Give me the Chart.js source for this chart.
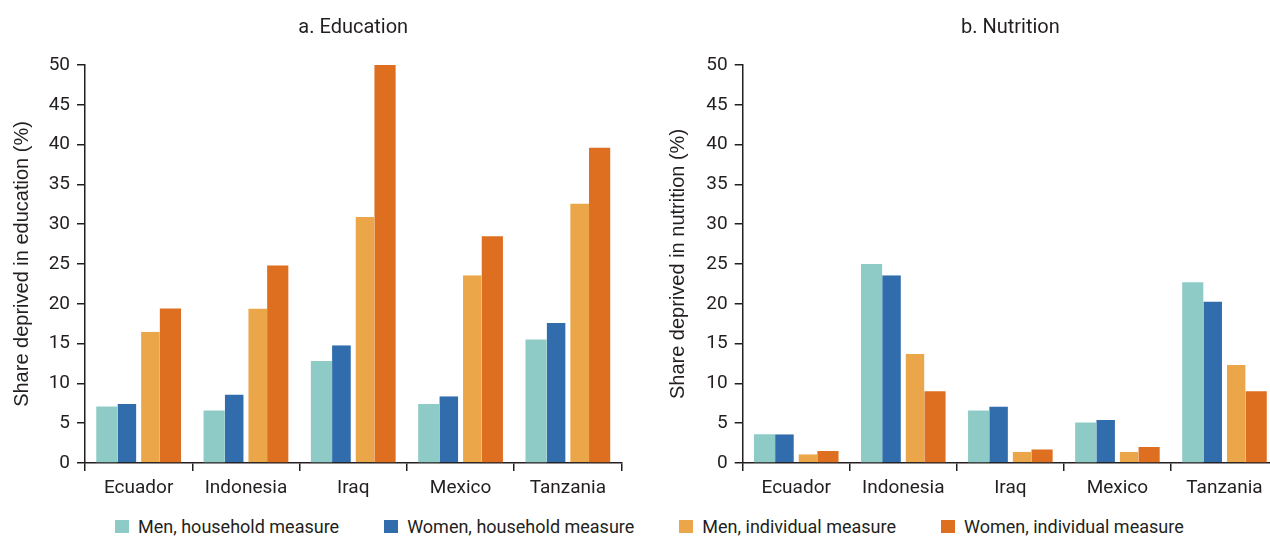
<!DOCTYPE html>
<html>
<head>
<meta charset="utf-8">
<script src="https://cdn.jsdelivr.net/npm/chart.js@4"></script>
<style>
  html, body { margin: 0; padding: 0; background: #fff; overflow: hidden; }
  body { width: 1270px; height: 537px; position: relative; }
  #wrapA { position: absolute; left: 0; top: 0; width: 640px; height: 500px; }
  #wrapB { position: absolute; left: 640px; top: 0; width: 650px; height: 500px; }
  #legend {
    position: absolute; left: 115px; top: 516px; display: flex; align-items: center;
    white-space: nowrap; width: 1200px;
    font-family: Roboto, sans-serif; font-size: 18px; color: #231f20;
  }
  .item { display: flex; align-items: center; margin-right: 45px; flex-shrink: 0; }
  .box { width: 14px; height: 13px; margin-right: 9px; flex-shrink: 0; }
</style>
</head>
<body>
<div id="wrapA"><canvas id="eduChart"></canvas></div>
<div id="wrapB"><canvas id="nutChart"></canvas></div>
<div id="legend"></div>

<script>
const countries = ["Ecuador", "Indonesia", "Iraq", "Mexico", "Tanzania"];
const seriesNames = ["Men, household measure", "Women, household measure", "Men, individual measure", "Women, individual measure"];
const seriesColors = ["#8fcbc6", "#316dac", "#eca64a", "#de6f20"];
const yTicks = [0, 5, 10, 15, 20, 25, 30, 35, 40, 45, 50];

// a. Education
const eduMenHH = [7.1, 6.6, 12.8, 7.4, 15.5];
const eduWomenHH = [7.4, 8.6, 14.8, 8.4, 17.6];
const eduMenInd = [16.5, 19.4, 30.9, 23.6, 32.6];
const eduWomenInd = [19.4, 24.8, 50.1, 28.5, 39.6];

// b. Nutrition
const nutMenHH = [3.6, 25.0, 6.6, 5.1, 22.7];
const nutWomenHH = [3.6, 23.6, 7.1, 5.4, 20.3];
const nutMenInd = [1.1, 13.7, 1.4, 1.4, 12.3];
const nutWomenInd = [1.5, 9.0, 1.7, 2.0, 9.0];

const ink = "#231f20";
const face = "Roboto";

// small white gap between the household pair and the individual pair
const gaps = [0, { right: 2.5 }, { left: 2.5 }, 0];

function makeDatasets(rows) {
  return rows.map((d, i) => ({
    label: seriesNames[i],
    data: d,
    backgroundColor: seriesColors[i],
    borderColor: "rgba(0,0,0,0)",
    borderWidth: gaps[i],
    categoryPercentage: 0.79,
    barPercentage: 1
  }));
}

function makeChart(id, title, yTitle, rows, yWidth, padRight, yTitlePad) {
  return new Chart(document.getElementById(id), {
    type: "bar",
    data: { labels: countries, datasets: makeDatasets(rows) },
    options: {
      responsive: true,
      maintainAspectRatio: false,
      animation: false,
      layout: { padding: { left: 0, right: padRight, top: 1, bottom: 0 } },
      plugins: {
        legend: { display: false },
        tooltip: { enabled: false },
        title: {
          display: true,
          text: title,
          fullSize: false,
          color: ink,
          font: { family: face, size: 20, weight: "normal" },
          padding: { top: 15, bottom: 25 }
        }
      },
      scales: {
        x: {
          grid: { offset: true, drawOnChartArea: false, drawTicks: true, tickLength: 8, color: ink, lineWidth: 1.5 },
          border: { display: true, color: ink, width: 1.5 },
          ticks: { color: ink, font: { family: face, size: 19 }, padding: 6 },
          afterFit: s => { s.height = 37; }
        },
        y: {
          min: 0,
          max: 50,
          afterBuildTicks: s => { s.ticks = yTicks.map(v => ({ value: v })); },
          grid: { drawOnChartArea: false, drawTicks: true, tickLength: 8, color: ink, lineWidth: 1.5 },
          border: { display: true, color: ink, width: 1.5 },
          ticks: { color: ink, font: { family: face, size: 19 }, padding: 7 },
          title: {
            display: true,
            text: yTitle,
            color: ink,
            font: { family: "Liberation Sans", size: 20 },
            padding: { top: yTitlePad, bottom: 0 }
          },
          afterFit: s => { s.width = yWidth; }
        }
      }
    }
  });
}

makeChart("eduChart", "a. Education", "Share deprived in education (%)",
  [eduMenHH, eduWomenHH, eduMenInd, eduWomenInd], 85, 18.5, 10);
makeChart("nutChart", "b. Nutrition", "Share deprived in nutrition (%)",
  [nutMenHH, nutWomenHH, nutMenInd, nutWomenInd], 102.7, 12, 26);

// shared legend
const legend = document.getElementById("legend");
seriesNames.forEach((name, i) => {
  const item = document.createElement("div");
  item.className = "item";
  item.innerHTML = `<span class="box" style="background:${seriesColors[i]}"></span><span>${name}</span>`;
  legend.appendChild(item);
});
</script>
</body>
</html>
